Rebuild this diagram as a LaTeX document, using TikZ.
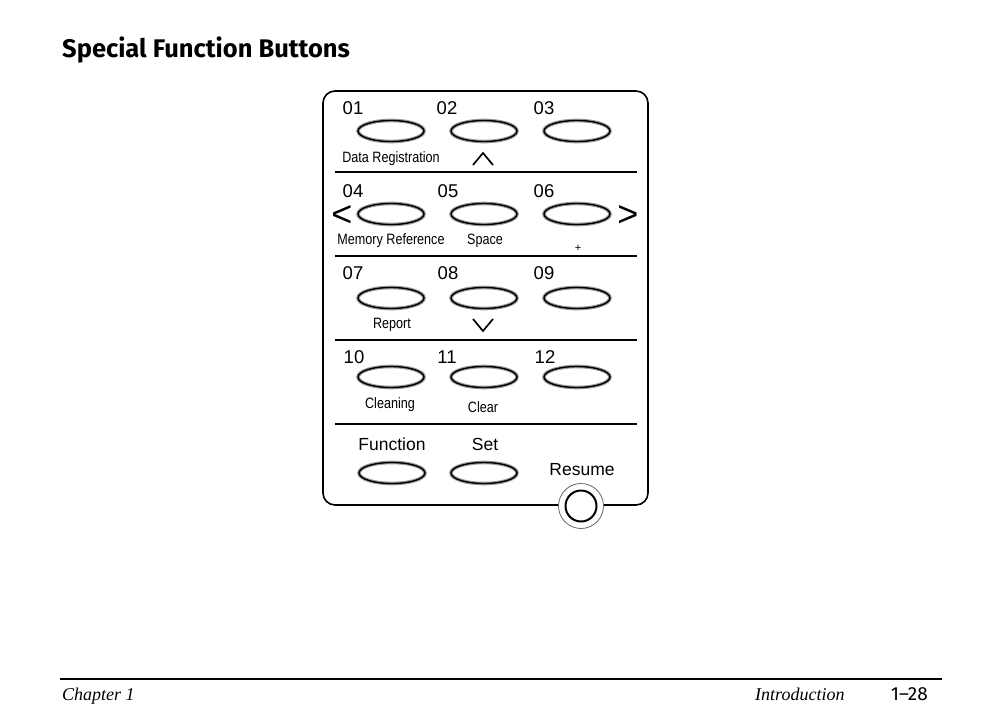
\documentclass[tikz,border=0pt]{standalone}
\usepackage{fontspec}
\setmainfont{Liberation Sans}
\newfontfamily\narrowfont[FakeStretch=0.84]{Liberation Sans}
\newfontfamily\headfont{Fira Sans}
\newfontfamily\footserif{Liberation Serif}
\usetikzlibrary{shapes.geometric}

\tikzset{
  key/.style={ellipse, draw=black, line width=1.4pt, minimum width=66pt,
    minimum height=21pt, inner sep=0pt,
    preaction={draw=black!40, line width=3.6pt}},
  num/.style={font=\fontsize{18.5}{20}\selectfont, inner sep=0pt},
  lbl/.style={font=\narrowfont\fontsize{15}{17}\selectfont, inner sep=0pt},
  big/.style={font=\fontsize{17.5}{19}\selectfont, inner sep=0pt, anchor=base},
  arr/.style={font=\fontsize{36}{38}\selectfont, inner sep=0pt, anchor=base,
    text height=20pt, text depth=0pt},
  sep/.style={line width=2pt},
  chev/.style={line width=1.7pt, line join=miter},
}

\begin{document}
\begin{tikzpicture}[x=1pt,y=-1pt]
\useasboundingbox (0,0) rectangle (1006,720);

% title
\node[font=\headfont\bfseries\fontsize{25.5}{30}\selectfont, anchor=base west, inner sep=0pt]
  (title) at (62,57) {Special Function Buttons};

% panel
\draw[line width=1.6pt, rounded corners=12pt] (323,91) rectangle (648,505);
\foreach \y in {172,256,340,424}
  \draw[sep] (335,\y) -- (637,\y);

% row 1
\node[num] (n01) at (353,108) {01};
\node[num] (n02) at (447,108) {02};
\node[num] (n03) at (544,108) {03};
\node[key] (k01) at (391,131) {};
\node[key] (k02) at (484,131) {};
\node[key] (k03) at (577,131) {};
\node[lbl] (datareg) at (391,159) {Data Registration};
\draw[chev] (473,165) -- (483,153) -- (493,165);

% row 2
\node[num] (n04) at (353,191) {04};
\node[num] (n05) at (448,191) {05};
\node[num] (n06) at (544,191) {06};
\node[key] (k04) at (391,214) {};
\node[key] (k05) at (484,214) {};
\node[key] (k06) at (577,214) {};
\node[arr] (left) at (342,226) {<};
\node[arr] (right) at (628,226) {>};
\node[lbl] (memref) at (391,241) {Memory Reference};
\node[lbl] (space) at (485,241) {Space};
\node[font=\fontsize{11}{12}\selectfont, inner sep=0pt] (plus) at (578,248) {+};

% row 3
\node[num] (n07) at (353,273) {07};
\node[num] (n08) at (448,273) {08};
\node[num] (n09) at (544,273) {09};
\node[key] (k07) at (391,298) {};
\node[key] (k08) at (484,298) {};
\node[key] (k09) at (577,298) {};
\node[lbl] (report) at (392,325) {Report};
\draw[chev] (473,319) -- (483,331) -- (493,319);

% row 4
\node[num] (n10) at (354,357) {10};
\node[num] (n11) at (447,357) {11};
\node[num] (n12) at (545,357) {12};
\node[key] (k10) at (391,377) {};
\node[key] (k11) at (484,377) {};
\node[key] (k12) at (577,377) {};
\node[lbl] (cleaning) at (390,405) {Cleaning};
\node[lbl] (clear) at (483,407) {Clear};

% row 5
\node[big] (function) at (392,450) {Function};
\node[big] (set) at (485,450) {Set};
\node[key] (kfunc) at (392,473) {};
\node[key] (kset) at (484,473) {};
\node[big] (resume) at (582,475) {Resume};
\node[circle, draw=black!60, line width=0.8pt, fill=white, minimum size=45pt]
  (kres) at (581,506) {};
\node[circle, draw=black, line width=2pt, minimum size=31pt] (kresin) at (kres) {};

% footer
\draw[line width=1.5pt] (60,679) -- (942,679);
\node[font=\footserif\itshape\fontsize{18}{20}\selectfont, anchor=base west, inner sep=0pt]
  (chapter) at (62,700) {Chapter 1};
\node[font=\footserif\itshape\fontsize{18}{20}\selectfont, anchor=base west, inner sep=0pt]
  (intro) at (755,700) {Introduction};
\node[font=\headfont\fontsize{19}{21}\selectfont, anchor=base east, inner sep=0pt]
  (page) at (928,700) {1–28};
\end{tikzpicture}
\end{document}
